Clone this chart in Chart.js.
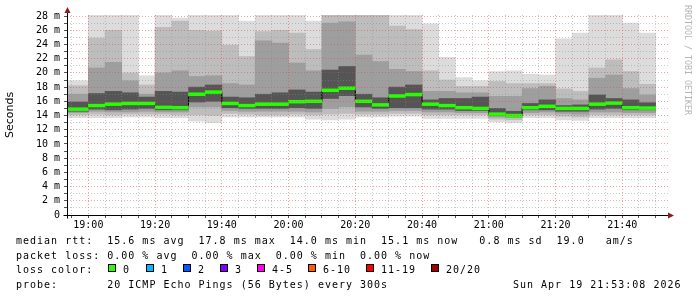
<!DOCTYPE html>
<html lang="en">
<head>
<meta charset="UTF-8">
<title>Smokeping - median rtt</title>
<script src="https://cdn.jsdelivr.net/npm/chart.js@4.4.1/dist/chart.umd.min.js"></script>
<style>
  html, body { margin: 0; padding: 0; background: #fff; }
  #wrap { position: relative; width: 697px; height: 297px; overflow: hidden; background: #fff; }
  #chart { position: absolute; left: 0; top: 0; }
  .txt { position: absolute; font-family: 'DejaVu Sans Mono', monospace; font-size: 10px; line-height: 12px; letter-spacing: 1px; color: #000; white-space: pre; }
  .box { position: absolute; top: 264px; width: 6px; height: 6px; border: 1px solid #000; }
  #mark { position: absolute; left: 683px; top: 5px; writing-mode: vertical-rl; font-family: 'DejaVu Sans Mono', monospace; font-size: 8.3px; color: #b4b4b4; white-space: pre; }
</style>
</head>
<body>
<div id="wrap">
  <canvas id="chart" width="697" height="297"></canvas>
  <div id="mark">RRDTOOL / TOBI OETIKER</div>
  <div class="txt" style="left:16px; top:235px">median rtt:  15.6 ms avg  17.8 ms max  14.0 ms min  15.1 ms now   0.8 ms sd  19.0   am/s</div>
  <div class="txt" style="left:16px; top:249.5px">packet loss: 0.00 % avg  0.00 % max  0.00 % min  0.00 % now</div>
  <div class="txt" style="left:16px; top:263.5px">loss color:</div>
  <div id="lossLegend"></div>
  <div class="txt" style="left:16px; top:278.5px">probe:       20 ICMP Echo Pings (56 Bytes) every 300s</div>
  <div class="txt" style="left:513px; top:278.5px">Sun Apr 19 21:53:08 2026</div>
</div>

<script>
    // 5 minute steps, end time of each step
    const times = ['18:55', '19:00', '19:05', '19:10', '19:15', '19:20', '19:25', '19:30', '19:35', '19:40',
                   '19:45', '19:50', '19:55', '20:00', '20:05', '20:10', '20:15', '20:20', '20:25', '20:30',
                   '20:35', '20:40', '20:45', '20:50', '20:55', '21:00', '21:05', '21:10', '21:15', '21:20',
                   '21:25', '21:30', '21:35', '21:40', '21:45', '21:50'];

    // median rtt (ms)
    const medianRtt = [14.9, 14.9, 15.4, 15.6, 15.7, 15.7, 15.15, 15.1, 17.0, 17.3,
                       15.7, 15.4, 15.6, 15.6, 15.95, 16.0, 17.55, 17.85, 16.0, 15.5,
                       16.75, 16.95, 15.6, 15.4, 15.1, 15.0, 14.2, 14.0, 15.1, 15.3,
                       15.0, 15.0, 15.6, 15.75, 15.1, 15.05];

    // smoke: outermost pings (min / max)
    const pingMin = [13.7, 13.7, 13.7, 13.7, 13.8, 13.8, 13.7, 13.7, 13.2, 13.0,
                     13.8, 13.8, 13.8, 13.8, 13.8, 13.5, 13.4, 13.5, 13.8, 13.8,
                     13.9, 13.9, 13.6, 13.6, 13.6, 13.6, 13.1, 13.0, 13.7, 13.7,
                     13.4, 13.3, 13.7, 13.7, 13.7, 13.7];
    const pingMax = [18.9, 18.9, 28.5, 28.5, 28.5, 19.6, 28.5, 27.7, 28.5, 28.5,
                     28.5, 27.3, 28.2, 28.2, 28.5, 27.3, 28.5, 28.5, 28.5, 28.5,
                     28.5, 28.5, 26.9, 22.2, 19.35, 18.9, 20.2, 20.3, 19.8, 19.7,
                     24.8, 25.6, 28.2, 28.2, 27.0, 25.6];

    // smoke: second band
    const band2Low = [14.1, 14.1, 14.2, 14.1, 14.2, 14.2, 14.2, 14.1, 14.1, 14.0,
                      14.3, 14.2, 14.1, 14.1, 14.2, 14.1, 14.2, 14.3, 14.2, 14.2,
                      14.3, 14.3, 14.1, 14.1, 14.1, 14.1, 13.5, 13.4, 14.1, 14.1,
                      13.9, 13.8, 14.1, 14.1, 14.1, 14.1];
    const band2High = [18.2, 18.2, 24.9, 26.0, 20.0, 18.3, 26.4, 27.3, 26.0, 25.9,
                       23.9, 22.3, 25.8, 26.0, 25.6, 23.3, 28.5, 28.5, 28.5, 28.5,
                       26.6, 26.1, 20.3, 19.0, 18.1, 18.1, 18.8, 18.5, 18.5, 18.5,
                       17.75, 17.4, 20.7, 21.85, 20.2, 18.4];

    // smoke: third band
    const band3Low = [14.4, 14.4, 14.6, 14.5, 14.5, 14.6, 14.5, 14.5, 15.2, 15.2,
                      14.7, 14.6, 14.6, 14.6, 14.6, 14.5, 15.0, 15.2, 14.6, 14.6,
                      14.7, 14.7, 14.5, 14.5, 14.4, 14.4, 13.8, 13.7, 14.4, 14.5,
                      14.3, 14.2, 14.5, 14.5, 14.4, 14.4];
    const band3High = [17.0, 17.0, 20.7, 21.5, 18.9, 17.0, 20.0, 20.3, 19.5, 19.6,
                       18.5, 18.3, 24.5, 24.2, 21.4, 20.3, 27.0, 27.2, 22.5, 21.6,
                       20.5, 20.2, 17.4, 17.4, 17.2, 17.2, 16.7, 16.7, 17.8, 18.1,
                       16.4, 16.2, 19.25, 19.7, 17.8, 16.9];

    // smoke: dark core round the median
    const coreLow = [14.6, 14.6, 14.9, 14.8, 14.9, 15.0, 14.8, 14.8, 15.9, 16.0,
                     15.1, 15.0, 15.0, 15.0, 15.1, 15.0, 16.4, 16.8, 15.2, 15.0,
                     15.1, 15.1, 14.9, 14.9, 14.7, 14.7, 14.0, 13.9, 14.8, 14.8,
                     14.6, 14.6, 14.9, 15.0, 14.8, 14.8];
    const coreHigh = [15.9, 15.9, 17.1, 17.4, 17.2, 16.6, 17.4, 17.3, 18.0, 18.3,
                      16.6, 16.5, 17.0, 17.2, 17.6, 17.3, 20.4, 20.9, 17.0, 16.5,
                      18.0, 18.3, 16.2, 16.4, 16.4, 16.6, 15.0, 14.6, 15.7, 16.2,
                      15.4, 15.5, 16.9, 16.4, 16.2, 15.8];

    const lossLabels = ['0', '1', '2', '3', '4-5', '6-10', '11-19', '20/20'];
    const lossColors = ['#26ff00', '#00b8ff', '#0059ff', '#7e00ff', '#ff00f0', '#ff5a00', '#ff0000', '#a00000'];
    const lossBoxX = [108, 146, 183, 220, 257, 308, 366, 431];

    // loss colour legend
    const lossLegend = document.getElementById('lossLegend');
    lossLabels.forEach((label, i) => {
        const box = document.createElement('div');
        box.className = 'box';
        box.style.left = lossBoxX[i] + 'px';
        box.style.background = lossColors[i];
        lossLegend.appendChild(box);
        const txt = document.createElement('div');
        txt.className = 'txt';
        txt.style.left = (lossBoxX[i] + 15) + 'px';
        txt.style.top = '263.5px';
        txt.textContent = label;
        lossLegend.appendChild(txt);
    });

    function toMinutes(t) {
        const [h, m] = t.split(':').map(Number);
        return h * 60 + m;
    }
    function fmtTime(v) {
        const h = Math.floor(v / 60), m = v % 60;
        return String(h).padStart(2, '0') + ':' + String(m).padStart(2, '0');
    }

    const centers = times.map(t => toMinutes(t) - 2.5);
    const band = (lows, highs) => centers.map((x, i) => ({ x, y: [lows[i], highs[i]] }));

    const majorGrid = 'rgba(225, 70, 70, 0.5)';
    const minorGrid = 'rgba(140, 140, 140, 0.45)';
    const monoFont = { family: 'DejaVu Sans Mono', size: 10 };

    // axis lines with rrdtool style arrows
    const axisArrows = {
        id: 'axisArrows',
        afterDraw(chart) {
            const { ctx, chartArea: a } = chart;
            const x0 = Math.round(a.left) + 0.5, y0 = Math.round(a.bottom) + 0.5;
            ctx.save();
            ctx.strokeStyle = '#000';
            ctx.lineWidth = 1;
            ctx.beginPath();
            ctx.moveTo(x0, y0 + 3);
            ctx.lineTo(x0, a.top - 3);
            ctx.moveTo(x0 - 4, y0);
            ctx.lineTo(a.right, y0);
            ctx.stroke();
            ctx.fillStyle = '#8b1c1c';
            ctx.beginPath();
            ctx.moveTo(x0, a.top - 8);
            ctx.lineTo(x0 - 3, a.top - 2);
            ctx.lineTo(x0 + 3, a.top - 2);
            ctx.closePath();
            ctx.fill();
            ctx.beginPath();
            ctx.moveTo(a.right + 5, y0);
            ctx.lineTo(a.right - 1, y0 - 3);
            ctx.lineTo(a.right - 1, y0 + 3);
            ctx.closePath();
            ctx.fill();
            ctx.restore();
        }
    };

    const barBase = { type: 'bar', grouped: false, borderWidth: 0, barPercentage: 1, categoryPercentage: 1 };

    const chart = new Chart(document.getElementById('chart').getContext('2d'), {
        type: 'bar',
        data: {
            datasets: [
                { ...barBase, label: 'median rtt', order: 0, backgroundColor: '#26ff00',
                  data: centers.map((x, i) => ({ x, y: [medianRtt[i] - 0.2, medianRtt[i] + 0.2] })) },
                { type: 'line', label: 'step', order: 1, borderColor: '#000', borderWidth: 1,
                  pointRadius: 0, stepped: 'middle',
                  data: centers.map((x, i) => ({ x, y: medianRtt[i] })) },
                { ...barBase, label: 'core', order: 2, backgroundColor: '#555555', data: band(coreLow, coreHigh) },
                { ...barBase, label: 'band3', order: 3, backgroundColor: '#9e9e9e', data: band(band3Low, band3High) },
                { ...barBase, label: 'band2', order: 4, backgroundColor: '#bdbdbd', data: band(band2Low, band2High) },
                { ...barBase, label: 'outer', order: 5, backgroundColor: '#dcdcdc', data: band(pingMin, pingMax) }
            ]
        },
        options: {
            responsive: false,
            animation: false,
            devicePixelRatio: 1,
            layout: { padding: { left: 0, top: 15, right: 28, bottom: 62 } },
            plugins: { legend: { display: false }, tooltip: { enabled: false } },
            scales: {
                x: {
                    type: 'linear',
                    min: 1133.6,
                    max: 1314,
                    offset: false,
                    afterFit: s => { s.height = 20; },
                    grid: {
                        offset: false, z: 1, tickLength: 3, tickColor: '#555',
                        color: c => (c.tick && c.tick.value % 20 === 0) ? majorGrid : minorGrid
                    },
                    border: { display: false, dash: [1, 2] },
                    ticks: {
                        stepSize: 5, includeBounds: false, autoSkip: false, maxRotation: 0, minRotation: 0,
                        padding: 1, color: '#000', font: monoFont,
                        callback: v => v % 20 === 0 ? fmtTime(v) : ''
                    }
                },
                y: {
                    type: 'linear',
                    min: 0,
                    max: 28.15,
                    afterFit: s => { s.width = 67; },
                    title: {
                        display: true, text: 'Seconds', color: '#000',
                        font: { family: 'DejaVu Sans', size: 11 }, padding: { top: 4, bottom: 0 }
                    },
                    grid: {
                        z: 1, tickLength: 3, tickColor: '#555',
                        color: c => (c.tick && c.tick.value % 2 === 0) ? majorGrid : minorGrid
                    },
                    border: { display: false, dash: [1, 2] },
                    ticks: {
                        stepSize: 1, includeBounds: false, autoSkip: false, padding: 4,
                        color: '#000', font: monoFont,
                        callback: v => v === 0 ? '0' : (v % 2 === 0 ? v + ' m' : '')
                    }
                }
            }
        },
        plugins: [axisArrows]
    });
</script>
</body>
</html>
